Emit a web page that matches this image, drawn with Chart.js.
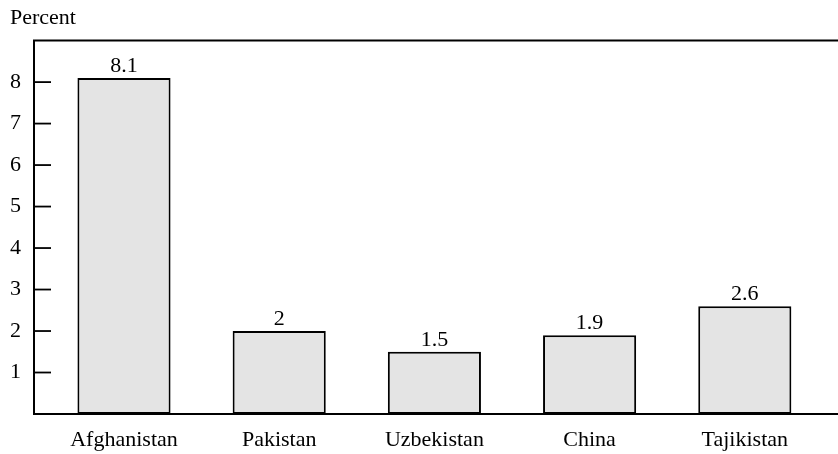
<!DOCTYPE html>
<html>
<head>
<meta charset="utf-8">
<script src="https://cdn.jsdelivr.net/npm/chart.js@4/dist/chart.umd.min.js"></script>
<style>
  html, body { margin: 0; padding: 0; background: #fff; }
  #wrap { width: 838px; height: 454px; }
</style>
</head>
<body>
<div id="wrap"><canvas id="c" width="838" height="454"></canvas></div>
<script>
// Countries along the horizontal axis
const countries = ['Afghanistan', 'Pakistan', 'Uzbekistan', 'China', 'Tajikistan'];
// Share, in percent
const shares = [8.1, 2, 1.5, 1.9, 2.6];
// Labelled ticks on the vertical axis
const yTickValues = [1, 2, 3, 4, 5, 6, 7, 8];

const FONT = '"Liberation Serif", "Times New Roman", serif';

// Draws the open frame, inward tick marks and value labels
const framePlugin = {
  id: 'frame',
  afterDatasetsDraw(chart) {
    const { ctx, chartArea, scales } = chart;
    const y = scales.y;
    const left = chartArea.left - 12.4;
    const right = chart.width;
    const top = chartArea.top;
    const bottom = chartArea.bottom;
    ctx.save();
    ctx.strokeStyle = '#000';
    ctx.lineWidth = 2;
    ctx.beginPath();
    ctx.moveTo(right, top); ctx.lineTo(left, top); ctx.lineTo(left, bottom); ctx.lineTo(right, bottom);
    ctx.stroke();
    ctx.lineWidth = 1.8;
    yTickValues.forEach(v => {
      const py = y.getPixelForValue(v);
      ctx.beginPath();
      ctx.moveTo(left, py); ctx.lineTo(left + 17, py);
      ctx.stroke();
    });
    // value labels above each bar
    ctx.fillStyle = '#000';
    ctx.font = '22px ' + FONT;
    ctx.textAlign = 'center';
    ctx.textBaseline = 'bottom';
    const meta = chart.getDatasetMeta(0);
    meta.data.forEach((bar, i) => {
      ctx.fillText(String(shares[i]), bar.x, bar.y - 0.5);
    });
    ctx.restore();
  }
};

new Chart(document.getElementById('c'), {
  type: 'bar',
  data: {
    labels: countries,
    datasets: [{
      data: shares,
      backgroundColor: '#e4e4e4',
      borderColor: '#000',
      borderWidth: 2,
      borderSkipped: false,
      categoryPercentage: 1,
      barPercentage: 0.6
    }]
  },
  options: {
    responsive: false,
    animation: false,
    layout: { padding: { left: 10, right: 15.6, top: 0, bottom: 0 } },
    plugins: {
      legend: { display: false },
      tooltip: { enabled: false },
      title: {
        display: true,
        text: 'Percent',
        align: 'start',
        color: '#000',
        font: { family: FONT, size: 22, weight: 'normal' },
        padding: { top: 4.7, bottom: 9.5 }
      }
    },
    scales: {
      x: {
        grid: { display: false, drawTicks: false },
        border: { display: false },
        ticks: {
          color: '#000',
          font: { family: FONT, size: 22 },
          padding: 13,
          maxRotation: 0,
          autoSkip: false
        },
        afterFit(scale) { scale.height = 40; }
      },
      y: {
        min: 0,
        max: 9,
        grid: { display: false, drawTicks: false },
        border: { display: false },
        afterBuildTicks(scale) {
          scale.ticks = yTickValues.map(v => ({ value: v }));
        },
        ticks: {
          color: '#000',
          font: { family: FONT, size: 22 },
          padding: 25.4
        },
        afterFit(scale) { scale.width = 36.4; }
      }
    }
  },
  plugins: [framePlugin]
});
</script>
</body>
</html>
